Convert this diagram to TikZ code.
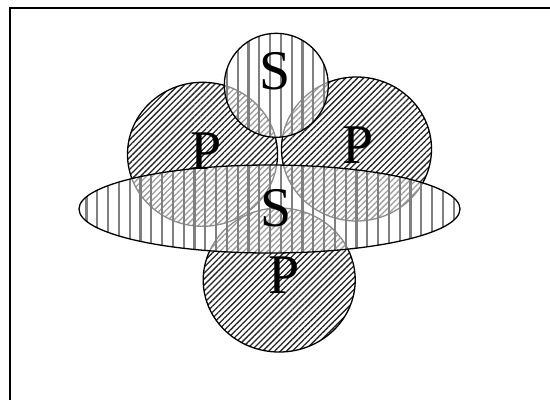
\documentclass[tikz,border=0pt]{standalone}
\usepackage{fontspec}
\setmainfont{Liberation Serif}
\usetikzlibrary{patterns.meta}
\tikzset{
  pset/.style={preaction={fill=white}, pattern={Lines[angle=45,distance=4.2bp,line width=1.3bp]}, pattern color=black!85, draw=black, line width=1.3bp},
  sset/.style={preaction={fill=white, fill opacity=0.55}, pattern={Lines[angle=90,distance=10.8bp,line width=2.2bp]}, pattern color=black!50, draw=black, line width=1.3bp},
  lbl/.style={inner sep=0pt, anchor=base, font=\fontsize{56bp}{60bp}\selectfont},
  frame/.style={line width=2bp, draw=black}
}
\begin{document}
\begin{tikzpicture}[x=1bp, y=-1bp]
\useasboundingbox (0,0) rectangle (550,400);
\draw[frame] (550,7.5) -- (9.5,7.5) -- (9.5,400);
\path[pset] (202.5,154.3) ellipse [x radius=75, y radius=72] coordinate (pl);
\path[pset] (356.5,149) ellipse [x radius=75, y radius=72] coordinate (pr);
\path[pset] (279.2,280) ellipse [x radius=76, y radius=72] coordinate (pb);
\path[sset] (276.3,85.3) circle [radius=52] coordinate (st);
\path[sset] (269.5,209) ellipse [x radius=190.5, y radius=44] coordinate (sm);
\node[lbl] (lst) at (275,89) {S};
\node[lbl] (lpl) at (206,169) {P};
\node[lbl] (lpr) at (358.5,163) {P};
\node[lbl] (lsm) at (276,226) {S};
\node[lbl] (lpb) at (284,293) {P};
\end{tikzpicture}
\end{document}
